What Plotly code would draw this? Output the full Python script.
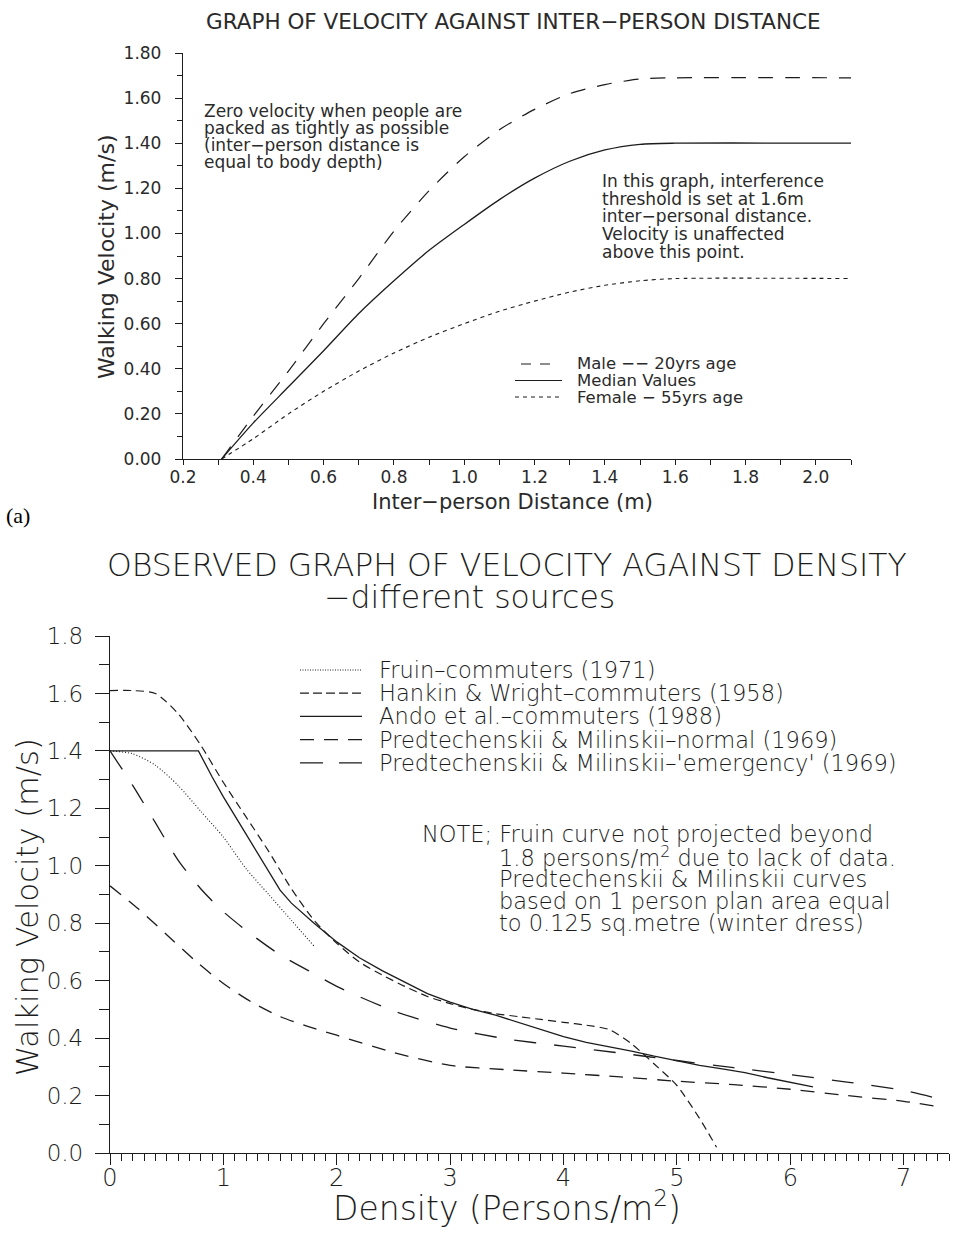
import plotly.graph_objects as go

W, H = 961, 1240

# ---------------- panel (a): velocity vs inter-person distance ----------------
distance_m = [0.31, 0.4, 0.5, 0.6, 0.7, 0.8, 0.9, 1.0, 1.1, 1.2, 1.3, 1.4, 1.5, 1.6, 2.1]
male_20yrs = [0.0, 0.19, 0.39, 0.60, 0.80, 1.01, 1.19, 1.34, 1.46, 1.55, 1.62, 1.66, 1.685, 1.69, 1.69]
median_vals = [0.0, 0.16, 0.32, 0.48, 0.645, 0.79, 0.925, 1.04, 1.15, 1.245, 1.32, 1.37, 1.395, 1.40, 1.40]
female_55yrs = [0.0, 0.09, 0.20, 0.30, 0.39, 0.47, 0.54, 0.60, 0.655, 0.70, 0.74, 0.77, 0.79, 0.80, 0.80]

# ---------------- panel (b): velocity vs density ----------------
fruin_density = [0.0, 0.2, 0.4, 0.6, 0.8, 1.0, 1.2, 1.4, 1.6, 1.8]
fruin_vel = [1.40, 1.39, 1.35, 1.28, 1.19, 1.10, 0.99, 0.90, 0.81, 0.72]

hankin_density = [0.0, 0.2, 0.4, 0.6, 0.8, 1.0, 1.2, 1.4, 1.6, 1.8, 2.0, 2.2, 2.4, 2.6, 2.8,
                  3.0, 3.2, 3.4, 3.6, 3.8, 4.0, 4.2, 4.4, 4.6, 4.8, 5.0, 5.2, 5.35]
hankin_vel = [1.61, 1.61, 1.60, 1.53, 1.42, 1.29, 1.17, 1.05, 0.92, 0.81, 0.73, 0.665, 0.62, 0.58, 0.545,
              0.52, 0.50, 0.485, 0.475, 0.465, 0.455, 0.445, 0.43, 0.38, 0.31, 0.235, 0.12, 0.02]

ando_density = [0.0, 0.78, 0.9, 1.0, 1.2, 1.4, 1.5, 1.6, 1.8, 2.0, 2.2, 2.4, 2.6, 2.8, 3.0, 3.2,
                3.4, 3.6, 3.8, 4.0, 4.2, 4.4, 4.6, 4.8, 5.0, 5.2, 5.4, 5.6, 5.8, 6.0, 6.2]
ando_vel = [1.40, 1.40, 1.31, 1.24, 1.11, 0.98, 0.915, 0.87, 0.80, 0.735, 0.68, 0.635, 0.595, 0.555, 0.525, 0.50,
            0.48, 0.455, 0.43, 0.405, 0.385, 0.37, 0.355, 0.337, 0.32, 0.305, 0.293, 0.28, 0.262, 0.245, 0.23]

pm_normal_density = [0.0, 0.25, 0.5, 0.75, 1.0, 1.25, 1.5, 1.75, 2.0, 2.5, 3.0, 3.5, 4.0, 4.5, 5.0,
                     5.5, 6.0, 6.5, 7.0, 7.33]
pm_normal_vel = [0.93, 0.85, 0.76, 0.67, 0.59, 0.525, 0.475, 0.44, 0.41, 0.35, 0.305, 0.29, 0.278, 0.265, 0.25,
                 0.238, 0.222, 0.20, 0.18, 0.16]

pm_emerg_density = [0.0, 0.2, 0.4, 0.6, 0.8, 1.0, 1.25, 1.5, 1.75, 2.0, 2.5, 3.0, 3.5, 4.0, 4.5,
                    5.0, 5.5, 6.0, 6.5, 7.0, 7.3]
pm_emerg_vel = [1.40, 1.28, 1.15, 1.02, 0.92, 0.84, 0.76, 0.69, 0.635, 0.58, 0.495, 0.435, 0.397, 0.372, 0.348,
                0.322, 0.297, 0.273, 0.247, 0.218, 0.19]

INK = "#1c1c1c"
TXT_A = "#2a2a2a"
FONT_A = "DejaVu Sans"
FONT_B = "DejaVu Sans"

# line styles
DASH_MALE = "15px,12px"
DASH_FEMALE = "4px,4px"
DASH_FRUIN = "1px,2px"
DASH_HANKIN = "8px,5px"
DASH_NORMAL = "14px,10px"
DASH_EMERG = "22px,18px"


def px(x):
    return x / W


def py(y):
    return 1 - y / H


fig = go.Figure()


def curve(x, y, dash, width, xa, ya, shape="linear"):
    fig.add_trace(go.Scatter(
        x=x, y=y, mode="lines", xaxis=xa, yaxis=ya, showlegend=False, hoverinfo="skip",
        line=dict(color=INK, width=width, dash=dash, shape=shape, smoothing=0.7),
    ))


curve(distance_m, male_20yrs, DASH_MALE, 1.2, "x", "y", "spline")
curve(distance_m, median_vals, "solid", 1.3, "x", "y", "spline")
curve(distance_m, female_55yrs, DASH_FEMALE, 1.1, "x", "y", "spline")

curve(fruin_density, fruin_vel, DASH_FRUIN, 1.1, "x2", "y2", "spline")
curve(hankin_density, hankin_vel, DASH_HANKIN, 1.2, "x2", "y2", "spline")
curve(ando_density, ando_vel, "solid", 1.3, "x2", "y2", "linear")
curve(pm_normal_density, pm_normal_vel, DASH_NORMAL, 1.3, "x2", "y2", "spline")
curve(pm_emerg_density, pm_emerg_vel, DASH_EMERG, 1.3, "x2", "y2", "spline")

base_axis = dict(showline=True, linecolor=INK, linewidth=1.3, showgrid=False, zeroline=False,
                 ticks="outside", tickcolor=INK, tickwidth=1.2, fixedrange=True, automargin=False)

fig.update_layout(
    template="none",
    width=W, height=H, margin=dict(l=0, r=0, t=0, b=0, autoexpand=False),
    paper_bgcolor="white", plot_bgcolor="white", showlegend=False,
    xaxis=dict(base_axis, domain=[px(183), px(851)], range=[0.2, 2.1], anchor="y",
               tick0=0.2, dtick=0.2, tickformat=".1f", ticklen=5, ticklabelstandoff=-3,
               minor=dict(dtick=0.1, tick0=0.2, ticklen=5, ticks="outside", tickcolor=INK, tickwidth=1.2),
               tickfont=dict(family=FONT_A, size=17, color=TXT_A)),
    yaxis=dict(base_axis, domain=[py(459), py(53)], range=[0, 1.8], anchor="x",
               tick0=0, dtick=0.2, tickformat=".2f", ticklen=7, ticklabelstandoff=10,
               minor=dict(dtick=0.1, ticklen=5, ticks="outside", tickcolor=INK, tickwidth=1.2),
               tickfont=dict(family=FONT_A, size=17, color=TXT_A)),
    xaxis2=dict(base_axis, domain=[px(110), px(949)], range=[0, 7.4], anchor="y2",
                tick0=0, dtick=1, tickformat="d", ticklen=11, ticklabelstandoff=-8,
                minor=dict(dtick=0.1, ticklen=7, ticks="outside", tickcolor=INK, tickwidth=1.2),
                tickfont=dict(family=FONT_B, size=24, color=INK, weight=200)),
    yaxis2=dict(base_axis, domain=[py(1153), py(636)], range=[0, 1.8], anchor="x2",
                tick0=0, dtick=0.2, tickformat=".1f", ticklen=14, ticklabelstandoff=7,
                minor=dict(dtick=0.1, ticklen=10, ticks="outside", tickcolor=INK, tickwidth=1.2),
                tickfont=dict(family=FONT_B, size=23, color=INK, weight=200)),
)


def text(s, x, y, size, family, color=INK, anchor="left", angle=0, weight=None):
    f = dict(family=family, size=size, color=color)
    if weight:
        f["weight"] = weight
    fig.add_annotation(text=s, x=px(x), y=py(y), xref="paper", yref="paper", showarrow=False,
                       xanchor=anchor, yanchor="middle", textangle=angle, font=f)


def block(lines, x, y0, step, size, family, color=INK, weight=None):
    for i, s in enumerate(lines):
        if isinstance(s, tuple):
            s, dx = s
        else:
            dx = 0
        text(s, x + dx, y0 + i * step, size, family, color, weight=weight)


def sample(x0, x1, y, dash, width=1.2):
    fig.add_shape(type="line", xref="paper", yref="paper", x0=px(x0), x1=px(x1), y0=py(y), y1=py(y),
                  line=dict(color=INK, width=width, dash=dash))


# ---- panel (a) texts ----
text("GRAPH OF VELOCITY AGAINST INTER−PERSON DISTANCE", 513, 22, 21.5, FONT_A, TXT_A, anchor="center")
text("Walking Velocity (m/s)", 106, 257, 22, FONT_A, TXT_A, anchor="center", angle=-90)
text("Inter−person Distance (m)", 512, 502, 21, FONT_A, TXT_A, anchor="center")
block(["Zero velocity when people are",
       "packed as tightly as possible",
       "(inter−person distance is",
       "equal to body depth)"], 202, 111, 17, 17, FONT_A, TXT_A)
block(["In this graph, interference",
       "threshold is set at 1.6m",
       "inter−personal distance.",
       "Velocity is unaffected",
       "above this point."], 600, 181, 17.7, 17, FONT_A, TXT_A)
block(["Male −− 20yrs age", "Median Values", "Female − 55yrs age"], 575, 364, 16.5, 16.5, FONT_A, TXT_A)
sample(521, 556, 364, "10px,9px")
sample(515, 562, 380.5, "solid")
sample(515, 562, 397, DASH_FEMALE, 1.0)
text("(a)", 4, 515, 22, "Liberation Serif", "#000")

# ---- panel (b) texts ----
text("OBSERVED GRAPH OF VELOCITY AGAINST DENSITY", 507, 565, 31.5, FONT_B, INK, anchor="center", weight=200)
text("−different sources", 469, 597, 31.5, FONT_B, INK, anchor="center", weight=200)
text("Walking Velocity (m/s)", 27, 907, 30.5, FONT_B, INK, anchor="center", angle=-90, weight=200)
text("Density (Persons/m<sup>2</sup>)", 507, 1206, 33, FONT_B, INK, anchor="center", weight=200)

legend_rows = ["Fruin–commuters (1971)",
               "Hankin &amp; Wright–commuters (1958)",
               "Ando et al.–commuters (1988)",
               "Predtechenskii &amp; Milinskii–normal (1969)",
               "Predtechenskii &amp; Milinskii–'emergency' (1969)"]
block(legend_rows, 377, 670, 23.2, 22.5, FONT_B, weight=200)
sample(300, 362, 670, "1px,1.5px", 1.0)
sample(300, 362, 693.2, "9px,4px")
sample(300, 362, 716.4, "solid", 1.3)
sample(300, 362, 739.6, DASH_NORMAL, 1.3)
sample(300, 362, 762.8, "23px,16px", 1.3)

block(["NOTE; Fruin curve not projected beyond",
       ("1.8 persons/m<sup>2</sup> due to lack of data.", 77),
       ("Predtechenskii &amp; Milinskii curves", 77),
       ("based on 1 person plan area equal", 77),
       ("to 0.125 sq.metre (winter dress)", 77)], 420, 834, 22.3, 22.5, FONT_B, weight=200)

fig.write_html("out.html")
